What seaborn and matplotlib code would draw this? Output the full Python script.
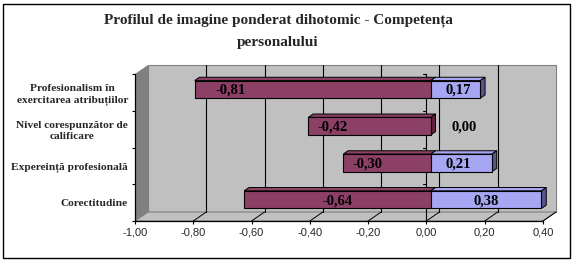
import matplotlib
matplotlib.use("Agg")
import matplotlib.pyplot as plt
import seaborn as sns
import pandas as pd
import numpy as np
from matplotlib.patches import Polygon, Rectangle
from matplotlib.transforms import ScaledTranslation, IdentityTransform

# ---------------- data ----------------
title = "Profilul de imagine ponderat dihotomic - Competența\npersonalului"
categories = [
    "Profesionalism în\nexercitarea atribuțiilor",
    "Nivel corespunzător de\ncalificare",
    "Expereință profesională",
    "Corectitudine",
]
negative_values = [-0.81, -0.42, -0.30, -0.64]
positive_values = [0.17, 0.00, 0.21, 0.38]
x_ticks = [-1.0, -0.8, -0.6, -0.4, -0.2, 0.0, 0.2, 0.4]

# ---------------- layout / style ----------------
W, H, DPI = 575, 264, 100
NEG_COLOR = "#993366"
POS_COLOR = "#9999FF"
POS_SIDE = "#55558C"
NEG_SIDE = "#662244"
WALL = "#C0C0C0"
SIDE_WALL = "#808080"
DEPTH = (13, 9)          # px offset of back wall
BAR_D0, BAR_D1 = 0.33, 0.70
# label anchor positions (data units, along bar)
neg_label_x = [-0.686, -0.336, -0.216, -0.319]
pos_label_x = [0.093, 0.113, 0.093, 0.189]

sns.set_theme(style="white")
plt.rcParams["font.family"] = ["Liberation Serif", "DejaVu Serif"]

fig = plt.figure(figsize=(W / DPI, H / DPI), dpi=DPI)
fig.patch.set_facecolor("white")

x0, x1, ytop, ybot = 135, 543, 74, 221
ax = fig.add_axes([x0 / W, (H - ybot) / H, (x1 - x0) / W, (ybot - ytop) / H])
ax.set_facecolor("none")

df = pd.DataFrame({
    "category": categories * 2,
    "value": negative_values + positive_values,
    "series": ["neg"] * 4 + ["pos"] * 4,
})
sns.barplot(data=df, x="value", y="category", hue="series", orient="h",
            dodge=False, width=0.48, palette={"neg": NEG_COLOR, "pos": POS_COLOR},
            edgecolor="black", linewidth=0.8, legend=False, ax=ax, zorder=5)

ax.set_xlim(-1.0, 0.4)
ax.set_ylim(3.5, -0.5)
fig.canvas.draw()


def P(x, y, d):
    px, py = ax.transData.transform((x, y))
    return (px + d * DEPTH[0], py + d * DEPTH[1])


def poly(pts, **kw):
    p = Polygon(pts, closed=True, transform=IdentityTransform(), clip_on=False, **kw)
    ax.add_artist(p)
    return p


# walls
poly([P(-1, -0.5, 1), P(0.4, -0.5, 1), P(0.4, 3.5, 1), P(-1, 3.5, 1)],
     facecolor=WALL, edgecolor="#808080", linewidth=0.8, zorder=0)
poly([P(-1, -0.5, 0), P(-1, -0.5, 1), P(-1, 3.5, 1), P(-1, 3.5, 0)],
     facecolor=SIDE_WALL, edgecolor="none", zorder=1)
poly([P(-1, 3.5, 0), P(-1, 3.5, 1), P(0.4, 3.5, 1), P(0.4, 3.5, 0)],
     facecolor=WALL, edgecolor="#808080", linewidth=0.8, zorder=1)

# gridlines on back wall and diagonals on floor
for t in x_ticks:
    if -1 < t < 0.4:
        a, b = P(t, -0.5, 1), P(t, 3.5, 1)
        ax.add_artist(plt.Line2D([a[0], b[0]], [a[1], b[1]], color="black", lw=0.8,
                                 transform=IdentityTransform(), zorder=2, clip_on=False))
    if t > -1:
        a, b = P(t, 3.5, 0), P(t, 3.5, 1)
        ax.add_artist(plt.Line2D([a[0], b[0]], [a[1], b[1]], color="black", lw=0.7,
                                 transform=IdentityTransform(), zorder=2, clip_on=False))

# zero line (category axis) with little ticks
a, b = P(0, -0.5, 0), P(0, 3.5, 0)
ax.add_artist(plt.Line2D([a[0], b[0]], [a[1], b[1]], color="black", lw=0.8,
                         transform=IdentityTransform(), zorder=3, clip_on=False))
for yb in [-0.5, 0.5, 1.5, 2.5, 3.5]:
    a = P(0, yb, 0)
    ax.add_artist(plt.Line2D([a[0] - 3, a[0]], [a[1], a[1]], color="black", lw=0.8,
                             transform=IdentityTransform(), zorder=3, clip_on=False))

# 3D bars: shift front face to bar depth, add top and side faces
shift = ScaledTranslation(BAR_D0 * DEPTH[0] / DPI, BAR_D0 * DEPTH[1] / DPI, fig.dpi_scale_trans)
for patch in ax.patches:
    if not isinstance(patch, Rectangle):
        continue
    bx, by, bw, bh = patch.get_x(), patch.get_y(), patch.get_width(), patch.get_height()
    fc = patch.get_facecolor()
    patch.set_transform(ax.transData + shift)
    patch.set_clip_on(False)
    if abs(bw) < 1e-9:
        continue
    xl, xr = min(bx, bx + bw), max(bx, bx + bw)
    ytopb = min(by, by + bh)
    ybotb = max(by, by + bh)
    # top face
    poly([P(xl, ytopb, BAR_D0), P(xl, ytopb, BAR_D1), P(xr, ytopb, BAR_D1), P(xr, ytopb, BAR_D0)],
         facecolor=fc, edgecolor="black", linewidth=0.7, zorder=4)
    # side face at right end
    poly([P(xr, ytopb, BAR_D0), P(xr, ytopb, BAR_D1), P(xr, ybotb, BAR_D1), P(xr, ybotb, BAR_D0)],
         facecolor=POS_SIDE if xr > 0 else NEG_SIDE, edgecolor="black", linewidth=0.7,
         zorder=4 if xr > 0 else 3.5)

# value labels
for vals, xs in ((negative_values, neg_label_x), (positive_values, pos_label_x)):
    for i, (v, lx) in enumerate(zip(vals, xs)):
        ax.text(lx, i + 0.03, f"{v:.2f}".replace(".", ","), ha="center", va="center",
                fontsize=10.5, fontweight="bold", color="black",
                transform=ax.transData + shift, zorder=6)

# axes styling
for s in ["top", "right"]:
    ax.spines[s].set_visible(False)
for s in ["left", "bottom"]:
    ax.spines[s].set_color("black")
    ax.spines[s].set_linewidth(0.9)
    ax.spines[s].set_zorder(3)
ax.set_xlabel("")
ax.set_ylabel("")
ax.set_xticks(x_ticks)
ax.set_xticklabels([f"{t:.2f}".replace(".", ",") for t in x_ticks],
                   fontfamily="Liberation Sans", fontsize=8)
ax.tick_params(axis="x", direction="out", length=2.5, width=0.8, color="black", pad=2,
               bottom=True)
ax.set_yticks([-0.5, 0.5, 1.5, 2.5, 3.5])
ax.set_yticklabels([])
ax.tick_params(axis="y", which="major", direction="out", length=2.5, width=0.8,
               color="black", left=True)
ax.set_yticks([0, 1, 2, 3], minor=True)
ax.set_yticklabels(categories, minor=True, fontsize=8.2, fontweight="bold")
ax.tick_params(axis="y", which="minor", length=0, pad=5)
for lab in ax.get_yticklabels(minor=True):
    lab.set_multialignment("center")
    lab.set_linespacing(1.25)
ax.grid(False)

# title
fig.text(278 / W, 1 - 31.5 / H, title, ha="center", va="center", fontsize=11,
         fontweight="bold", linespacing=1.9)

# outer frame
fig.add_artist(Rectangle((3 / W, 1 - 258 / H), 567 / W, 254 / H, transform=fig.transFigure,
                         fill=False, edgecolor="black", linewidth=1.0))

fig.savefig("out.png", dpi=DPI)
